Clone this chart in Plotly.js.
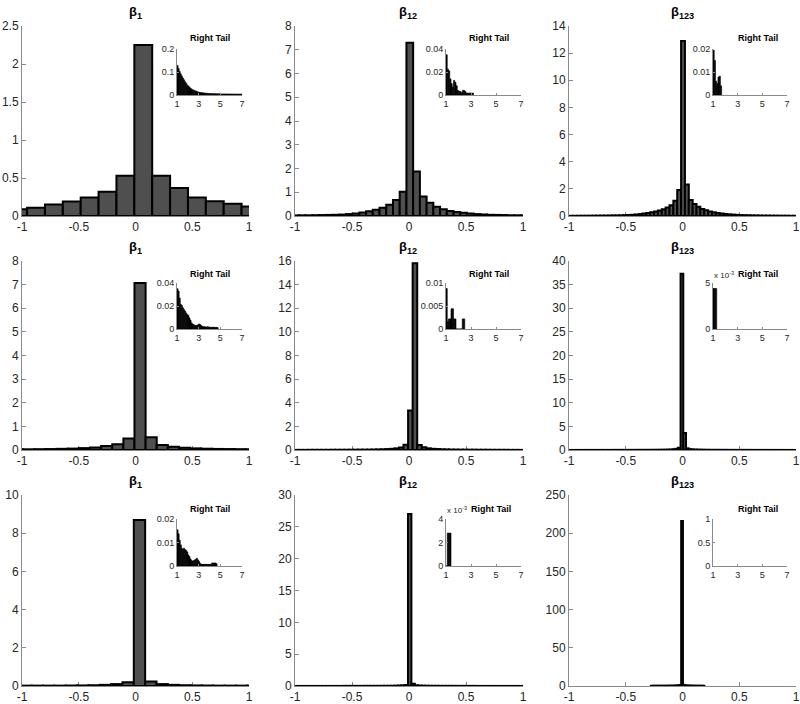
<!DOCTYPE html>
<html><head><meta charset="utf-8">
<script src="https://cdn.plot.ly/plotly-3.0.1.min.js"></script>
<style>html,body{margin:0;padding:0;background:#fff}#chart{width:800px;height:704px}</style>
</head><body><div id="chart"></div>
<script>
// ---------------- DATA ----------------
const panelTitles = ['β<sub>1</sub>','β<sub>12</sub>','β<sub>123</sub>','β<sub>1</sub>','β<sub>12</sub>','β<sub>123</sub>','β<sub>1</sub>','β<sub>12</sub>','β<sub>123</sub>'];
const xTickVals = [-1,-0.5,0,0.5,1];
const xTickText = ['-1','-0.5','0','0.5','1'];
const tailTickVals = [1,3,5,7];
const tailTickText = ['1','3','5','7'];
const insetTitle = 'Right Tail';

// main histograms: first bin centre, bin width, bin heights (density)
const p1First = -1.034, p1Width = 0.1575;
const p1Heights = [0.09,0.11,0.15,0.19,0.245,0.32,0.53,2.25,0.53,0.37,0.245,0.195,0.16,0.125];

const p2First = -0.996, p2Width = 0.059;
const p2Heights = [0.025,0.03,0.03,0.035,0.04,0.045,0.05,0.06,0.08,0.11,0.15,0.2,0.26,0.35,0.47,0.67,1.02,
  7.3,
  1.87,0.82,0.56,0.39,0.28,0.21,0.17,0.14,0.11,0.08,0.065,0.05,0.045,0.04,0.03,0.03,0.025];

const p3First = -0.9815, p3Width = 0.034;
const p3Heights = [0.015,0.015,0.015,0.02,0.02,0.02,0.025,0.025,0.03,0.03,0.035,0.04,0.045,0.05,0.06,0.075,0.09,0.11,0.14,0.18,0.22,0.27,0.33,0.4,0.5,0.62,0.8,1.12,1.92,
  12.9,
  2.33,1.18,0.88,0.68,0.52,0.42,0.34,0.27,0.22,0.18,0.15,0.12,0.1,0.085,0.07,0.06,0.05,0.045,0.04,0.035,0.03,0.03,0.025,0.025,0.02,0.02,0.02,0.015,0.015];

const p4First = -1.038, p4Width = 0.098;
const p4Heights = [0.03,0.03,0.035,0.04,0.05,0.06,0.08,0.11,0.17,0.24,0.49,
  7.07,
  0.54,0.21,0.14,0.1,0.07,0.055,0.045,0.04,0.035,0.03];

const p5First = -0.988, p5Width = 0.04;
const p5Heights = [0.01,0.01,0.01,0.015,0.015,0.015,0.015,0.015,0.02,0.02,0.02,0.02,0.025,0.025,0.03,0.03,0.035,0.04,0.05,0.06,0.08,0.1,0.14,0.22,0.45,3.35,
  15.8,
  0.42,0.24,0.14,0.1,0.08,0.06,0.05,0.04,0.035,0.03,0.03,0.025,0.025,0.02,0.02,0.02,0.015,0.015,0.015,0.015,0.01,0.01,0.01];

const p6First = -0.989, p6Width = 0.024;
const p6Heights = [0.01,0.01,0.01,0.01,0.01,0.01,0.012,0.012,0.012,0.012,0.012,0.015,0.015,0.015,0.015,0.015,0.018,0.018,0.018,0.018,0.02,0.02,0.02,0.02,0.025,0.025,0.025,0.025,0.03,0.03,0.03,
  0.035,0.04,0.045,0.055,0.065,0.08,0.1,0.15,0.25,0.5,
  37.3,
  3.6,0.35,0.18,0.12,0.09,0.07,0.06,0.05,0.04,0.035,
  0.03,0.03,0.03,0.025,0.025,0.025,0.025,0.02,0.02,0.02,0.02,0.018,0.018,0.018,0.018,0.015,0.015,0.015,0.015,0.015,0.012,0.012,0.012,0.012,0.012,0.01,0.01,0.01,0.01,0.01,0.01];

const p7First = -0.965, p7Width = 0.1;
const p7Heights = [0.02,0.02,0.02,0.02,0.025,0.03,0.04,0.06,0.1,0.19,
  8.69,
  0.23,0.1,0.06,0.04,0.03,0.025,0.02,0.02,0.02,0.02];

const p8First = -0.984, p8Width = 0.03;
const p8Heights = [0.008,0.008,0.008,0.008,0.008,0.008,0.008,0.008,0.01,0.01,0.01,0.01,0.01,0.01,0.015,0.015,0.015,0.015,0.015,0.015,0.02,0.02,0.02,0.02,0.02,0.03,0.03,0.03,
  0.04,0.05,0.07,0.1,0.15,
  27,
  0.35,0.12,0.07,0.05,0.04,
  0.03,0.03,0.03,0.02,0.02,0.02,0.02,0.02,0.015,0.015,0.015,0.015,0.015,0.015,0.01,0.01,0.01,0.01,0.01,0.01,0.008,0.008,0.008,0.008,0.008,0.008,0.008,0.008];

const p9First = -0.2709, p9Width = 0.0157;
const p9Heights = [0.3,0.3,0.3,0.3,0.3,0.3,0.3,0.3,0.3,0.35,0.35,0.4,0.4,0.5,0.6,0.8,1.2,
  216,
  1.5,0.8,0.6,0.5,0.4,0.4,0.35,0.3,0.3,0.3,0.3,0.3];

// right-tail insets: bin centres (width 0.1) and heights
const tailCenters = [1.05,1.15,1.25,1.35,1.45,1.55,1.65,1.75,1.85,1.95,
  2.05,2.15,2.25,2.35,2.45,2.55,2.65,2.75,2.85,2.95,
  3.05,3.15,3.25,3.35,3.45,3.55,3.65,3.75,3.85,3.95,
  4.05,4.15,4.25,4.35,4.45,4.55,4.65,4.75,4.85,4.95,
  5.05,5.15,5.25,5.35,5.45,5.55,5.65,5.75,5.85,5.95,
  6.05,6.15,6.25,6.35,6.45,6.55,6.65,6.75,6.85,6.95];
const tailBinWidth = 0.1;
const t1Heights = [0.128,0.115,0.102,0.092,0.083,0.074,0.066,0.058,0.051,0.044,
  0.039,0.034,0.030,0.026,0.023,0.021,0.019,0.017,0.015,0.013,
  0.012,0.011,0.010,0.0095,0.009,0.0085,0.008,0.0075,0.007,0.0065,
  0.006,0.006,0.0058,0.0056,0.0055,0.0054,0.0052,0.005,0.005,0.005,
  0.0048,0.0048,0.0047,0.0046,0.0046,0.0045,0.0045,0.0044,0.0044,0.0043,
  0.0043,0.0042,0.0042,0.0041,0.0041,0.004,0.004,0.004,0.004,0.004];
const t2Heights = [0.035,0.0225,0.021,0.014,0.010,0.007,0.0127,0.011,0.008,0.004,
  0.0034,0.003,0.002,0.004,0.004,0.003,0.0017,0.0017,0.0017,0.0017,0.0017,0.0017];
const t3Heights = [0.0195,0.015,0.006,0.005,0.0078,0.0082,0.004];
const t4Heights = [0.035,0.033,0.027,0.0215,0.0205,0.0185,0.017,0.0156,0.014,0.0126,
  0.0118,0.0097,0.0076,0.0053,0.0044,0.0038,0.0032,0.003,0.0032,0.0038,
  0.0044,0.0038,0.003,0.0022,0.002,0.002,0.0018,0.0018,0.002,0.0016,
  0.0016,0.0015,0.0015,0.0015,0.0015,0.0014,0.0014,0.0012];
const t5Heights = [0.0088,0.0017,0.0022,0.0022,0.0044,0.0044,0.0022,0.0022,0,0,0,0,0,0.0022,0.0022];
const t6Heights = [0.0044,0.0044,0.0044];
const t7Heights = [0.0154,0.0137,0.011,0.009,0.0076,0.007,0.0076,0.007,0.0066,0.006,
  0.0047,0.004,0.003,0.0023,0.0021,0.0023,0.0026,0.003,0.0033,0.0026,
  0.0019,0.0011,0.0007,0.0007,0.0007,0.0007,0.0007,0.0007,0.0007,0.0007,
  0.0007,0.0007,0.0013,0.0013,0.0013,0.0013,0.0010];
const t8Heights = [0,0.0028,0.0028,0.0028];
const t9Heights = [];

// axis scales
const mainYMax = [2.5,8,14,8,16,40,10,30,250];
const mainYStep = [0.5,1,2,1,2,5,2,5,50];
const tailYMax = [0.2,0.04,0.02,0.04,0.01,0.005,0.02,0.004,1];
const tailYTicks = [[0,0.1,0.2],[0,0.02,0.04],[0,0.01,0.02],[0,0.02,0.04],[0,0.005,0.01],[0,0.005],[0,0.01,0.02],[0,0.002,0.004],[0,0.5,1]];
const tailYText = [['0','0.1','0.2'],['0','0.02','0.04'],['0','0.01','0.02'],['0','0.02','0.04'],['0','0.005','0.01'],['0','5'],['0','0.01','0.02'],['0','2','4'],['0','0.5','1']];
const tailExponent = [null,null,null,null,null,'-3',null,'-3',null];

// ---------------- BUILD ----------------
const mains = [
  [p1First,p1Width,p1Heights],[p2First,p2Width,p2Heights],[p3First,p3Width,p3Heights],
  [p4First,p4Width,p4Heights],[p5First,p5Width,p5Heights],[p6First,p6Width,p6Heights],
  [p7First,p7Width,p7Heights],[p8First,p8Width,p8Heights],[p9First,p9Width,p9Heights]];
const tails = [t1Heights,t2Heights,t3Heights,t4Heights,t5Heights,t6Heights,t7Heights,t8Heights,t9Heights];

const W = 800, H = 704;
const colX = [[22,249],[295,523],[569,796]];
const rowY = [[26,216],[261,450],[495,686]];
const insX = [[177,242],[446,521],[713,787]];
const insY = [[49,95],[283,329],[519,566]];
const titleX = [135,408,682], titleY = [12,247,481];
const rtX = [210,489,758], rtY = [38,274,509];

const FONT = 'Liberation Sans, Arial, sans-serif';
const AX = '#8a8a8a', TXT = '#262626';
const dX = a => [a[0]/W, a[1]/W];
const dY = a => [1 - a[1]/H, 1 - a[0]/H];
const px = v => v / W, py = v => 1 - v / H;

const data = [], layout = {
  width: W, height: H, margin: {l:0,r:0,t:0,b:0},
  paper_bgcolor: '#fff', plot_bgcolor: 'rgba(0,0,0,0)',
  showlegend: false, barmode: 'overlay', annotations: [],
  font: {family: FONT, color: TXT}
};

for (let i = 0; i < 9; i++) {
  const r = Math.floor(i/3), c = i % 3;
  const n = i + 1, m = i + 10;
  const [first, bw, hs] = mains[i];
  const xs = hs.map((_, k) => first + k * bw);
  data.push({type:'bar', x: xs, y: hs, width: bw, xaxis: 'x'+n, yaxis: 'y'+n,
    marker: {color:'#4f4f4f', line:{color:'#000', width:2}}, hoverinfo:'skip'});
  layout['xaxis'+n] = {domain: dX(colX[c]), anchor: 'y'+n, range: [-1,1], tickmode:'array',
    tickvals: xTickVals, ticktext: xTickText, ticks:'inside', ticklen:4, tickcolor: AX,
    showline:true, linecolor: AX, linewidth:1, showgrid:false, zeroline:false, layer:'below traces',
    tickfont:{size:12, family:FONT, color:TXT}, fixedrange:true};
  layout['yaxis'+n] = {domain: dY(rowY[r]), anchor: 'x'+n, range: [0, mainYMax[i]], dtick: mainYStep[i], tick0:0,
    ticks:'inside', ticklen:4, tickcolor: AX, showline:true, linecolor: AX, linewidth:1,
    showgrid:false, zeroline:false, layer:'below traces', tickfont:{size:12, family:FONT, color:TXT}, fixedrange:true};
  layout.annotations.push({xref:'paper', yref:'paper', x: px(titleX[c]), y: py(titleY[r]),
    xanchor:'center', yanchor:'middle', showarrow:false, text:'<b>'+panelTitles[i]+'</b>',
    font:{size:13, family:FONT, color:'#000'}});

  // inset
  const th = tails[i];
  data.push({type:'bar', x: tailCenters.slice(0, th.length), y: th, width: tailBinWidth,
    xaxis:'x'+m, yaxis:'y'+m, marker:{color:'#000', line:{color:'#000', width:0.6}}, hoverinfo:'skip'});
  layout['xaxis'+m] = {domain: dX(insX[c]), anchor:'y'+m, range:[1,7], tickmode:'array',
    tickvals: tailTickVals, ticktext: tailTickText, ticks:'inside', ticklen:2, tickcolor: AX,
    showline:true, linecolor: AX, linewidth:1, showgrid:false, zeroline:false,
    tickfont:{size:9, family:FONT, color:TXT}, fixedrange:true};
  layout['yaxis'+m] = {domain: dY(insY[r]), anchor:'x'+m, range:[0, tailYMax[i]], tickmode:'array',
    tickvals: tailYTicks[i], ticktext: tailYText[i], ticks:'inside', ticklen:2, tickcolor: AX,
    showline:true, linecolor: AX, linewidth:1, showgrid:false, zeroline:false,
    tickfont:{size:9, family:FONT, color:TXT}, fixedrange:true};
  const hasExp = !!tailExponent[i];
  layout.annotations.push({xref:'paper', yref:'paper', x: px(hasExp ? insX[c][0] + 23 : rtX[c]), y: py(rtY[r]),
    xanchor: hasExp ? 'left' : 'center', yanchor:'middle', showarrow:false, text:'<b>'+insetTitle+'</b>',
    font:{size:9, family:FONT, color:'#000'}});
  if (hasExp) {
    layout.annotations.push({xref:'paper', yref:'paper', x: px(insX[c][0] - 1), y: py(rtY[r] + 1),
      xanchor:'left', yanchor:'middle', showarrow:false, text:'x 10<sup>'+tailExponent[i]+'</sup>',
      font:{size:8, family:FONT, color:TXT}});
  }
}

Plotly.newPlot('chart', data, layout, {staticPlot:true, displayModeBar:false});
</script></body></html>
